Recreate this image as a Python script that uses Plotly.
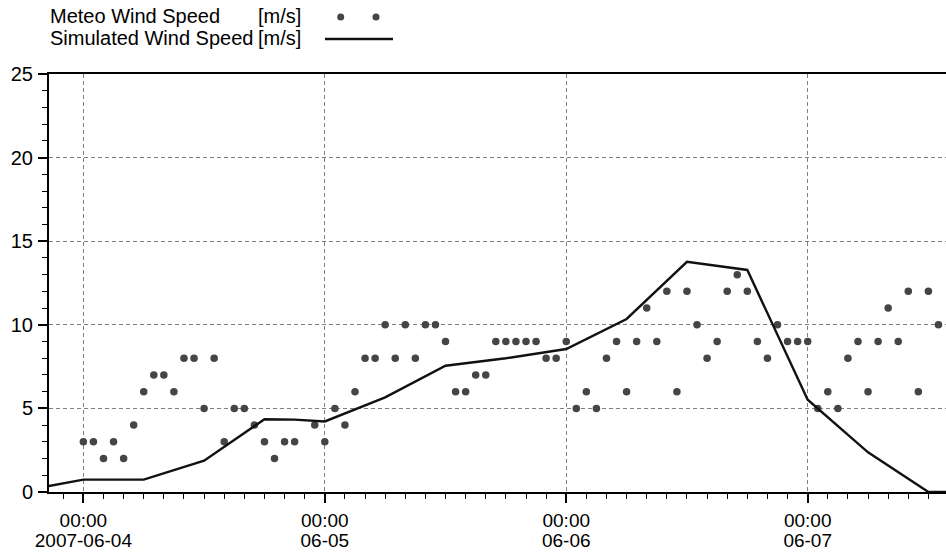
import plotly.graph_objects as go
import pandas as pd

# ---------------- data ----------------
meteo_start = "2007-06-04 00:00"
meteo_values = [3, 3, 2, 3, 2, 4, 6, 7, 7, 6, 8, 8, 5, 8, 3, 5, 5, 4, 3, 2, 3, 3, None, 4,
                3, 5, 4, 6, 8, 8, 10, 8, 10, 8, 10, 10, 9, 6, 6, 7, 7, 9, 9, 9, 9, 9, 8, 8,
                9, 5, 6, 5, 8, 9, 6, 9, 11, 9, 12, 6, 12, 10, 8, 9, 12, 13, 12, 9, 8, 10, 9, 9,
                9, 5, 6, 5, 8, 9, 6, 9, 11, 9, 12, 6, 12, 10, 8]
meteo_times = pd.date_range(meteo_start, periods=len(meteo_values), freq="h")

sim_times = ["2007-06-03 18:00", "2007-06-04 00:00", "2007-06-04 06:00", "2007-06-04 12:00",
             "2007-06-04 18:00", "2007-06-04 21:00", "2007-06-05 00:00", "2007-06-05 06:00",
             "2007-06-05 12:00", "2007-06-05 18:00", "2007-06-06 00:00", "2007-06-06 06:00",
             "2007-06-06 12:00", "2007-06-06 18:00", "2007-06-07 00:00", "2007-06-07 06:00",
             "2007-06-07 12:00", "2007-06-07 18:00"]
sim_values = [0.08, 0.74, 0.74, 1.87, 4.35, 4.33, 4.22, 5.66, 7.55, 8.0, 8.55, 10.35,
              13.77, 13.28, 5.52, 2.37, 0.0, 0.0]

day_ticks = ["2007-06-04", "2007-06-05", "2007-06-06", "2007-06-07"]
time_labels = ["00:00", "00:00", "00:00", "00:00"]
date_labels = ["2007-06-04", "06-05", "06-06", "06-07"]
y_ticks = [0, 5, 10, 15, 20, 25]

legend_names = ["Meteo Wind Speed", "Simulated Wind Speed"]
legend_units = ["[m/s]", "[m/s]"]

x_range = ["2007-06-03 20:35", "2007-06-07 13:45"]

# ---------------- layout geometry ----------------
W, H = 946, 554
L, R, T, B = 49, 0, 74, 62
PW, PH = W - L - R, H - T - B
FONT = "Liberation Sans, Arial, sans-serif"


def px(x):
    return (x - L) / PW


def py(y):
    return (H - B - y) / PH


fig = go.Figure()
fig.add_trace(go.Scatter(x=meteo_times, y=meteo_values, mode="markers",
                         marker=dict(size=7.5, color="#454545"),
                         name="Meteo Wind Speed [m/s]", showlegend=False,
                         cliponaxis=False))
fig.add_trace(go.Scatter(x=sim_times, y=sim_values, mode="lines",
                         line=dict(color="#111111", width=2.4),
                         name="Simulated Wind Speed [m/s]", showlegend=False))
# helper trace for second (date) label row
fig.add_trace(go.Scatter(x=[day_ticks[0]], y=[None], xaxis="x2", mode="markers",
                         showlegend=False, hoverinfo="skip"))

grid = dict(showgrid=True, gridcolor="#808080", gridwidth=1, griddash="4px,3px")

fig.update_layout(
    width=W, height=H,
    margin=dict(l=L, r=R, t=T, b=B, pad=0, autoexpand=False),
    paper_bgcolor="white", plot_bgcolor="white",
    font=dict(family=FONT, size=20, color="black"),
    showlegend=False,
    xaxis=dict(type="date", range=x_range, tickvals=day_ticks, ticktext=time_labels,
               ticks="outside", ticklen=9, tickwidth=1.5, tickcolor="black",
               showline=True, linecolor="black", linewidth=2, mirror=True,
               zeroline=False, ticklabelstandoff=1, automargin=False,
               tickfont=dict(size=19),
               minor=dict(dtick=7200000, tick0="2007-06-04", ticks="outside",
                          ticklen=5, tickwidth=1.2, tickcolor="black", showgrid=False),
               **grid),
    xaxis2=dict(type="date", range=x_range, overlaying="x", side="bottom", anchor="y",
                tickvals=day_ticks, ticktext=date_labels, ticks="", showline=False,
                showgrid=False, zeroline=False, ticklabelstandoff=35, automargin=False,
                tickfont=dict(size=19)),
    yaxis=dict(range=[0, 25], tickvals=y_ticks, ticks="outside", ticklen=9,
               tickwidth=1.5, tickcolor="black", showline=True, linecolor="black",
               linewidth=2, zeroline=False, ticklabelstandoff=1, automargin=False,
               minor=dict(dtick=1, ticks="outside", ticklen=5, tickwidth=1.2,
                          tickcolor="black", showgrid=False),
               **grid),
)

# ---------------- custom legend ----------------
rows_y = [16, 38]
for name, unit, yy in zip(legend_names, legend_units, rows_y):
    fig.add_annotation(xref="paper", yref="paper", x=px(48), y=py(yy), text=name,
                       showarrow=False, xanchor="left", yanchor="middle",
                       font=dict(family=FONT, size=20, color="black"))
    fig.add_annotation(xref="paper", yref="paper", x=px(256), y=py(yy), text=unit,
                       showarrow=False, xanchor="left", yanchor="middle",
                       font=dict(family=FONT, size=20, color="black"))

for cx in (340.7, 376):
    r = 3.5
    fig.add_shape(type="circle", xref="paper", yref="paper",
                  x0=px(cx - r), x1=px(cx + r), y0=py(17 + r), y1=py(17 - r),
                  fillcolor="#454545", line=dict(width=0))
fig.add_shape(type="line", xref="paper", yref="paper",
              x0=px(325), x1=px(393), y0=py(39), y1=py(39),
              line=dict(color="#111111", width=2.4))

fig.write_html("out.html", config={"displayModeBar": False},
               post_script="document.body.style.margin='0';document.body.style.overflow='hidden';")
